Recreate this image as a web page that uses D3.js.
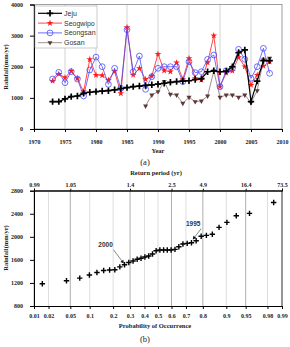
<!DOCTYPE html>
<html>
<head>
<meta charset="utf-8">
<script src="https://cdn.jsdelivr.net/npm/d3@7"></script>
<style>
  body { margin: 0; background: #fff; }
  svg { display: block; }
  .tick text { font-family: "Liberation Serif", serif; font-weight: bold; font-size: 6px; fill: #222; }
  .ttl { font-family: "Liberation Serif", serif; font-weight: bold; font-size: 6.5px; fill: #222; }
</style>
</head>
<body>
<div id="chart"></div>
<script>
// (a) annual rainfall by station
const years = [1973,1974,1975,1976,1977,1978,1979,1980,1981,1982,1983,1984,1985,1986,1987,1988,1989,1990,
               1991,1992,1993,1994,1995,1996,1997,1998,1999,2000,2001,2002,2003,2004,2005,2006,2007,2008];
const jeju = [880,880,965,1040,1060,1145,1180,1200,1220,1230,1260,1300,1330,1360,1380,1400,1420,1440,
              1470,1500,1525,1540,1550,1590,1620,1840,1870,1840,1860,2000,2450,2540,880,1540,2200,2200];
const seogwipo = [1542,1767,1649,1864,1628,1200,2239,1730,1725,1574,1850,1146,3267,1735,1950,1597,1703,2410,
                  1874,1842,2131,1597,2271,1628,1574,2131,3000,1360,1800,1864,2303,2002,1414,1735,2024,2163];
const seongsan = [1607,1820,1489,1842,1607,1060,1896,2310,2002,1435,1950,1307,3190,1842,2345,1275,1681,1950,
                  2002,2002,2002,1521,2163,1810,1842,2239,2378,1360,1874,1950,2560,2239,1628,2002,2592,1789];
const gosanYears = [1988,1989,1990,1991,1992,1993,1994,1995,1996,1997,1998,1999,2000,2001,2002,2003,2004,2005,2006,2007,2008];
const gosan = [740,1092,1199,1521,1114,1092,826,1018,877,900,1060,1864,1018,1092,1092,1018,1092,845,1231,2217,2271];
const yearTicks = [1970,1975,1980,1985,1990,1995,2000,2005,2010];
const rainTicksA = [0,1000,2000,3000,4000];

// (b) probability plot
const probB = [0.015,0.043,0.071,0.099,0.126,0.154,0.182,0.209,0.237,0.265,0.292,0.320,0.348,0.375,0.403,0.431,0.459,0.486,
               0.514,0.542,0.569,0.597,0.625,0.652,0.680,0.708,0.735,0.763,0.791,0.818,0.846,0.874,0.902,0.929,0.957,0.985];
const rainB = [1187,1239,1283,1337,1381,1416,1424,1428,1478,1515,1554,1580,1610,1627,1650,1667,1702,1759,
               1771,1771,1771,1771,1783,1828,1875,1887,1898,1933,2010,2025,2045,2164,2251,2366,2407,2595];
const probTicks = [0.01,0.02,0.05,0.1,0.2,0.3,0.4,0.5,0.6,0.7,0.8,0.9,0.95,0.98,0.99];
const probLabels = ["0.01","0.02","0.05","0.1","0.2","0.3","0.4","0.5","0.6","0.7","0.8","0.9","0.95","0.98","0.99"];
const returnProbs = [0.01,0.05,0.3,0.6,0.8,0.95,0.99];
const returnLabels = ["0.99","1.05","1.4","2.5","4.9","16.4","73.5"];
const rainTicksB = [800,1200,1600,2000,2400,2800];
const notes = [{label: "2000", p: 0.265, v: 1515, dx: -19, dy: -18}, {label: "1995", p: 0.763, v: 1933, dx: -3, dy: -15}];

// inverse de la loi normale (Acklam) pour l'échelle de probabilité
function normInv(p) {
    const a = [-39.69683028665376, 220.9460984245205, -275.9285104469687, 138.3577518672690, -30.66479806614716, 2.506628277459239];
    const b = [-54.47609879822406, 161.5858368580409, -155.6989798598866, 66.80131188771972, -13.28068155288572];
    const c = [-0.007784894002430293, -0.3223964580411365, -2.400758277161838, -2.549732539343734, 4.374664141464968, 2.938163982698783];
    const d = [0.007784695709041462, 0.3224671290700398, 2.445134137142996, 3.754408661907416];
    const pl = 0.02425;
    let q, r;
    if (p < pl) {
        q = Math.sqrt(-2 * Math.log(p));
        return (((((c[0]*q+c[1])*q+c[2])*q+c[3])*q+c[4])*q+c[5]) / ((((d[0]*q+d[1])*q+d[2])*q+d[3])*q+1);
    }
    if (p > 1 - pl) {
        q = Math.sqrt(-2 * Math.log(1 - p));
        return -(((((c[0]*q+c[1])*q+c[2])*q+c[3])*q+c[4])*q+c[5]) / ((((d[0]*q+d[1])*q+d[2])*q+d[3])*q+1);
    }
    q = p - 0.5; r = q * q;
    return (((((a[0]*r+a[1])*r+a[2])*r+a[3])*r+a[4])*r+a[5])*q / (((((b[0]*r+b[1])*r+b[2])*r+b[3])*r+b[4])*r+1);
}

const svg = d3.select("#chart").append("svg").attr("width", 290).attr("height", 347);

// ---------- (a) ----------
const xA = d3.scaleLinear().domain([1970, 2010]).range([34, 282]);
const yA = d3.scaleLinear().domain([0, 4000]).range([129, 4.5]);

const gA = svg.append("g");
gA.selectAll(".gridA").data(yearTicks.slice(1, -1)).enter().append("line")
    .attr("x1", d => xA(d)).attr("x2", d => xA(d))
    .attr("y1", yA(4000)).attr("y2", yA(0))
    .attr("stroke", "#c8c8c8").attr("stroke-width", 0.8);
gA.append("rect").attr("x", xA(1970)).attr("y", yA(4000))
    .attr("width", xA(2010) - xA(1970)).attr("height", yA(0) - yA(4000))
    .attr("fill", "none").attr("stroke", "#888").attr("stroke-width", 0.8);

gA.append("g").attr("transform", `translate(0,${yA(0)})`)
    .call(d3.axisBottom(xA).tickValues(yearTicks).tickFormat(d3.format("d")).tickSize(3).tickPadding(8))
    .call(g => g.select(".domain").attr("stroke", "#000"));
gA.append("g").attr("transform", `translate(${xA(1970)},0)`)
    .call(d3.axisLeft(yA).tickValues(rainTicksA).tickFormat(d3.format("d")).tickSize(4).tickPadding(7))
    .call(g => g.select(".domain").attr("stroke", "#000"));

const lineA = (xs, ys) => d3.line().x((d, i) => xA(xs[i])).y(d => yA(d))(ys);

const series = [
    {name: "Jeju", xs: years, ys: jeju, color: "#000", width: 1.2, mark: "plus"},
    {name: "Seogwipo", xs: years, ys: seogwipo, color: "#ff1a1a", width: 0.8, mark: "star"},
    {name: "Seongsan", xs: years, ys: seongsan, color: "#4a4aff", width: 0.8, mark: "circle"},
    {name: "Gosan", xs: gosanYears, ys: gosan, color: "#8a7272", width: 0.8, mark: "tri"}
];

function drawMark(g, mark, x, y) {
    if (mark === "plus") {
        g.append("path").attr("d", `M${x-3.2},${y}H${x+3.2}M${x},${y-3.2}V${y+3.2}`)
            .attr("stroke", "#000").attr("stroke-width", 1.7);
    } else if (mark === "star") {
        g.append("path").attr("d", d3.symbol(d3.symbolStar, 14)())
            .attr("transform", `translate(${x},${y})`).attr("fill", "#ff1a1a");
    } else if (mark === "circle") {
        g.append("circle").attr("cx", x).attr("cy", y).attr("r", 2.9)
            .attr("fill", "none").attr("stroke", "#4a4aff").attr("stroke-width", 0.8);
    } else {
        g.append("path").attr("d", d3.symbol(d3.symbolTriangle, 11)())
            .attr("transform", `translate(${x},${y}) rotate(180)`).attr("fill", "#5a3838");
    }
}

[series[3], series[1], series[2], series[0]].forEach(s => {
    gA.append("path").attr("d", lineA(s.xs, s.ys))
        .attr("fill", "none").attr("stroke", s.color).attr("stroke-width", s.width);
    const gm = gA.append("g");
    s.ys.forEach((v, i) => drawMark(gm, s.mark, xA(s.xs[i]), yA(v)));
});

// légende
const leg = gA.append("g");
leg.append("rect").attr("x", 35).attr("y", 6).attr("width", 62).attr("height", 42)
    .attr("fill", "#fff").attr("stroke", "#aaa").attr("stroke-width", 0.6);
series.forEach((s, i) => {
    const y = 13.3 + i * 9.8;
    leg.append("line").attr("x1", 38).attr("x2", 62).attr("y1", y).attr("y2", y)
        .attr("stroke", s.color).attr("stroke-width", s.width);
    drawMark(leg, s.mark, 50, y);
    leg.append("text").attr("x", 64).attr("y", y + 2.4).text(s.name)
        .attr("font-family", "Liberation Sans, Arial, sans-serif").attr("font-size", 7).attr("fill", "#333");
});

gA.append("text").attr("class", "ttl").attr("x", 158).attr("y", 152.5).attr("text-anchor", "middle").text("Year");
gA.append("text").attr("transform", "translate(8,67) rotate(-90)").attr("class", "ttl")
    .attr("text-anchor", "middle").text("Rainfall(mm/yr)");
svg.append("text").attr("x", 145).attr("y", 165).attr("text-anchor", "middle")
    .attr("font-family", "Liberation Serif, serif").attr("font-size", 8.5).attr("fill", "#222").text("(a)");

// ---------- (b) ----------
const zB = d3.scaleLinear().domain([normInv(0.01), normInv(0.99)]).range([34, 282]);
const xB = p => zB(normInv(p));
const yB = d3.scaleLinear().domain([800, 2800]).range([306, 190.7]);

const gB = svg.append("g");
gB.selectAll(".gridB").data(probTicks).enter().append("line")
    .attr("x1", d => xB(d)).attr("x2", d => xB(d)).attr("y1", yB(2800)).attr("y2", yB(800))
    .attr("stroke", d => returnProbs.includes(d) ? "#999" : "#d4d4d4").attr("stroke-width", 0.8);
gB.append("line").attr("x1", xB(0.99)).attr("x2", xB(0.99)).attr("y1", yB(2800)).attr("y2", yB(800))
    .attr("stroke", "#555").attr("stroke-width", 1);
gB.append("line").attr("x1", xB(0.01)).attr("x2", xB(0.99)).attr("y1", yB(2800)).attr("y2", yB(2800))
    .attr("stroke", "#333").attr("stroke-width", 1);

const probAxis = d3.axisBottom(d3.scaleLinear().domain(zB.domain()).range(zB.range()))
    .tickValues(probTicks.map(normInv)).tickFormat((d, i) => probLabels[i]).tickSize(3).tickPadding(5);
gB.append("g").attr("transform", `translate(0,${yB(800)})`).call(probAxis)
    .call(g => g.select(".domain").attr("stroke", "#000"));

const retAxis = d3.axisTop(d3.scaleLinear().domain(zB.domain()).range(zB.range()))
    .tickValues(returnProbs.map(normInv)).tickFormat((d, i) => returnLabels[i]).tickSize(2).tickPadding(1.5);
gB.append("g").attr("transform", `translate(0,${yB(2800)})`).call(retAxis)
    .call(g => g.select(".domain").attr("stroke", "#000"));

gB.append("g").attr("transform", `translate(${xB(0.01)},0)`)
    .call(d3.axisLeft(yB).tickValues(rainTicksB).tickFormat(d3.format("d")).tickSize(4).tickPadding(7))
    .call(g => g.select(".domain").attr("stroke", "#000"));

gB.selectAll(".pt").data(rainB).enter().append("path")
    .attr("d", (d, i) => { const x = xB(probB[i]), y = yB(d); return `M${x-2.7},${y}H${x+2.7}M${x},${y-2.7}V${y+2.7}`; })
    .attr("stroke", "#000").attr("stroke-width", 1.4);

notes.forEach(n => {
    const x = xB(n.p), y = yB(n.v);
    gB.append("line").attr("x1", x + n.dx + 8).attr("y1", y + n.dy + 3).attr("x2", x - 2).attr("y2", y - 3)
        .attr("stroke", "#333").attr("stroke-width", 0.6);
    gB.append("path").attr("d", d3.symbol(d3.symbolTriangle, 6)())
        .attr("transform", `translate(${x - 2},${y - 3}) rotate(${Math.atan2(-(n.dy + 6), -(n.dx + 10)) * 180 / Math.PI + 90})`)
        .attr("fill", "#111");
    gB.append("text").attr("x", x + n.dx).attr("y", y + n.dy).attr("text-anchor", "middle").text(n.label)
        .attr("font-family", "Liberation Sans, Arial, sans-serif").attr("font-size", 6.5).attr("font-weight", "bold").attr("fill", "#333");
});

gB.append("text").attr("class", "ttl").attr("x", 156).attr("y", 175).attr("text-anchor", "middle").text("Return period (yr)");
gB.append("text").attr("class", "ttl").attr("x", 155).attr("y", 327.5).attr("text-anchor", "middle").text("Probability of Occurrence");
gB.append("text").attr("transform", "translate(8,248) rotate(-90)").attr("class", "ttl")
    .attr("text-anchor", "middle").text("Rainfall(mm/yr)");
svg.append("text").attr("x", 145).attr("y", 342).attr("text-anchor", "middle")
    .attr("font-family", "Liberation Serif, serif").attr("font-size", 8.5).attr("fill", "#222").text("(b)");
</script>
</body>
</html>
